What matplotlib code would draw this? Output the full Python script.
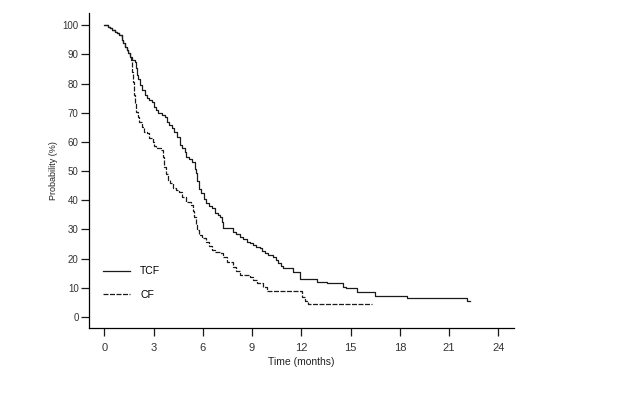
import matplotlib
matplotlib.use("Agg")
import matplotlib.pyplot as plt

# Kaplan-Meier style step data (months, % surviving)
tcf_time = [0, 0.2, 0.35, 0.5, 0.65, 0.75, 0.9, 1.06, 1.15, 1.26, 1.36, 1.46,
            1.55, 1.67, 1.87, 1.92, 1.97, 2.05, 2.17, 2.3, 2.48, 2.6, 2.75,
            2.89, 3.0, 3.15, 3.29, 3.5, 3.7, 3.85, 3.95, 4.1, 4.25, 4.41,
            4.6, 4.76, 4.9, 4.97, 5.15, 5.37, 5.5, 5.57, 5.65, 5.77, 5.9,
            6.05, 6.18, 6.35, 6.57, 6.75, 6.9, 7.05, 7.15, 7.25, 7.86, 8.05,
            8.26, 8.45, 8.67, 8.85, 9.07, 9.25, 9.48, 9.6, 9.79, 10.0, 10.29,
            10.45, 10.6, 10.75, 10.9, 11.5, 11.92, 12.93, 13.54, 14.56, 14.7,
            15.37, 16.49, 18.42, 22.07, 22.27]
tcf_surv = [100, 99.4, 98.9, 98.3, 97.7, 97.2, 96.6, 94.9, 94.0, 92.7, 91.5,
            90.4, 89.2, 88.1, 87.5, 85.5, 83.0, 81.5, 79.5, 77.8, 76.1, 75.0,
            74.3, 73.8, 72.0, 71.0, 69.8, 69.2, 68.7, 67.0, 65.8, 64.7, 63.5,
            61.8, 59.0, 57.8, 56.5, 54.9, 54.0, 53.2, 50.8, 49.2, 46.5, 44.0,
            42.4, 40.5, 38.9, 38.0, 37.2, 35.8, 35.0, 34.3, 32.5, 30.4, 29.2,
            28.5, 27.5, 26.6, 25.8, 25.2, 24.7, 24.1, 23.5, 22.6, 21.8, 21.2,
            20.7, 19.5, 18.4, 17.5, 16.7, 15.5, 13.0, 12.1, 11.5, 10.4, 9.8,
            8.7, 7.3, 6.6, 5.6, 5.6]

cf_time = [0, 0.2, 0.35, 0.5, 0.65, 0.75, 0.9, 1.06, 1.15, 1.26, 1.36, 1.46,
           1.55, 1.64, 1.7, 1.74, 1.8, 1.84, 1.9, 1.95, 2.05, 2.14, 2.3, 2.45,
           2.6, 2.75, 2.95, 3.05, 3.15, 3.46, 3.55, 3.66, 3.76, 3.86, 4.0,
           4.16, 4.35, 4.56, 4.75, 4.97, 5.27, 5.4, 5.47, 5.57, 5.67, 5.77,
           5.95, 6.18, 6.35, 6.57, 6.75, 7.05, 7.25, 7.45, 7.86, 8.05, 8.26,
           8.87, 9.05, 9.28, 9.68, 9.89, 12.02, 12.22, 12.42, 14.15, 16.3]
cf_surv = [100, 99.4, 98.9, 98.3, 97.7, 97.2, 96.6, 94.9, 94.0, 92.7, 91.5,
           90.4, 89.2, 88.1, 84.0, 80.6, 78.0, 76.0, 73.0, 70.3, 68.6, 66.9,
           65.2, 63.5, 62.9, 61.5, 60.0, 58.5, 57.8, 57.2, 54.9, 51.5, 49.0,
           46.9, 45.8, 44.1, 43.5, 42.9, 41.0, 39.5, 38.4, 36.5, 34.3, 31.5,
           29.8, 28.1, 27.0, 25.8, 24.2, 22.9, 22.3, 21.8, 20.5, 18.9, 17.2,
           15.8, 14.4, 13.8, 12.7, 11.5, 10.2, 8.9, 7.0, 5.6, 4.5, 4.5, 4.5]

xticks = [0, 3, 6, 9, 12, 15, 18, 21, 24]
yticks = [0, 10, 20, 30, 40, 50, 60, 70, 80, 90, 100]

plt.rcParams['font.family'] = ['Liberation Sans', 'DejaVu Sans']

fig = plt.figure(figsize=(6.24, 3.93), dpi=100)
ax = fig.add_axes([0.1426, 0.1654, 0.6811, 0.8016])

# Both curves as steps
ax.plot(tcf_time, tcf_surv, drawstyle='steps-post', color='#1a1a1a',
        linewidth=0.9, label='TCF')
ax.plot(cf_time, cf_surv, drawstyle='steps-post', color='#1a1a1a',
        linewidth=0.9, linestyle=(0, (4, 1.2)), label='CF')

ax.set_xlim(-0.93, 24.95)
ax.set_ylim(-3.77, 104.2)
ax.set_xticks(xticks)
ax.set_yticks(yticks)

# R-style axes: only left and bottom lines, ticks pointing out
ax.spines['top'].set_visible(False)
ax.spines['right'].set_visible(False)
for s in ['left', 'bottom']:
    ax.spines[s].set_linewidth(0.9)
ax.tick_params(direction='out', length=6, width=0.9, colors='#1a1a1a',
               labelcolor='#333333')
ax.tick_params(axis='x', labelsize=8, pad=5)
ax.tick_params(axis='y', labelsize=7, pad=1.5)

ax.set_xlabel('Time (months)', fontsize=7.5, labelpad=3, color='#222222')
ax.set_ylabel('Probability (%)', fontsize=6.5, labelpad=3, color='#222222')

ax.legend(loc='lower left', bbox_to_anchor=(0.01, 0.06), frameon=False,
          fontsize=7.5, handlelength=2.6, handletextpad=1.0,
          labelspacing=1.3)

fig.savefig('out.png', dpi=100)
